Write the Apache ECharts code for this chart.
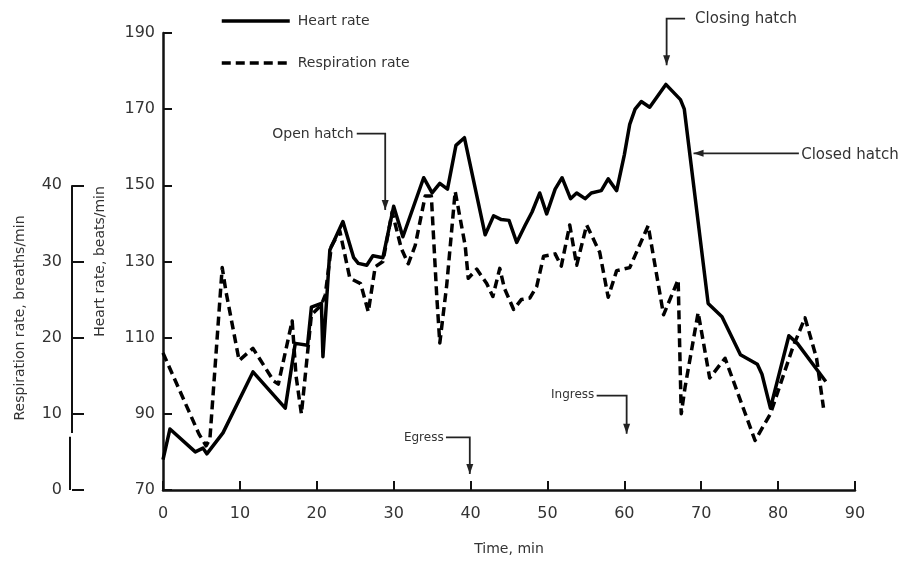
<!DOCTYPE html>
<html>
<head>
<meta charset="utf-8">
<script src="https://cdn.jsdelivr.net/npm/echarts@6/dist/echarts.min.js"></script>
<style>html,body{margin:0;padding:0;background:#fff}#c{width:910px;height:561px}</style>
</head>
<body>
<div id="c"></div>
<script>
// ---- data ----
var timeTicks = [0, 10, 20, 30, 40, 50, 60, 70, 80, 90];
var hrTicks = [70, 90, 110, 130, 150, 170, 190];
var respTicks = [0, 10, 20, 30, 40];

var hrTime = [0, 0.9, 4.2, 5.2, 5.7, 7.8, 11.7, 15.9, 17.2, 18.8, 19.3, 20.6, 20.8, 21.7, 23.4, 24.8, 25.4, 26.5, 27.3, 28.6, 30.0, 31.2, 33.9, 35.0, 36.0, 37.0, 38.1, 39.2, 41.9, 43.0, 44.0, 45.0, 46.0, 47.1, 48.0, 49.0, 49.9, 51.0, 51.9, 53.0, 53.8, 54.9, 55.7, 57.0, 57.9, 59.0, 60.0, 60.7, 61.4, 62.2, 63.3, 65.4, 67.3, 67.8, 70.9, 72.7, 75.1, 77.3, 77.9, 79.0, 81.4, 82.5, 86.2];
var hrValues = [78, 86, 80, 81, 79.5, 85, 101, 91.5, 108.5, 108, 118, 119, 105, 133, 140.5, 131, 129.5, 129, 131.5, 131, 144.5, 136.5, 152, 148, 150.5, 149, 160.5, 162.5, 137, 142, 141, 140.8, 135, 139.5, 143, 148, 142.5, 149, 152, 146.5, 148, 146.5, 148, 148.6, 151.7, 148.6, 158, 166, 170, 172, 170.5, 176.5, 172.5, 170, 119, 115.5, 105.5, 103, 100.4, 91.5, 110.5, 108.5, 98.5];

var respTime = [0, 4.7, 5.6, 6.1, 7.7, 8.2, 9.9, 11.7, 14.4, 15.0, 16.8, 17.3, 18.0, 19.3, 20.6, 21.1, 21.9, 23.0, 24.3, 25.7, 26.7, 27.6, 28.6, 29.8, 31.0, 31.9, 32.8, 34.1, 34.9, 35.6, 36.0, 36.9, 38.0, 39.3, 39.7, 40.8, 42.1, 42.9, 43.8, 44.4, 45.6, 46.6, 47.7, 48.6, 49.5, 51.0, 51.8, 52.9, 53.8, 55.1, 56.8, 57.9, 59.0, 60.7, 63.1, 65.1, 67.0, 67.4, 67.9, 69.6, 71.1, 73.1, 77.0, 79.0, 81.9, 83.5, 85.0, 85.9];
var respValues = [18, 7.3, 5.8, 6.7, 29.2, 26, 17, 18.6, 14.3, 13.9, 22.2, 15, 10, 23, 24.3, 25.6, 32, 34, 27.8, 27.1, 23.4, 29.3, 30, 36.5, 31.7, 29.7, 32.1, 38.6, 38.6, 25.5, 19.3, 26.9, 39.2, 32.1, 27.8, 29, 27.1, 25.4, 29.1, 26.5, 23.7, 25, 25.2, 26.7, 30.7, 31, 29.4, 34.8, 29.5, 34.8, 31.2, 25.3, 28.8, 29.2, 34.7, 23, 27.6, 10, 13.5, 23.3, 14.7, 17.3, 6.5, 10, 18.7, 22.6, 17.3, 10.8];

// annotations: label, text anchor (time, HR), arrow path in (time, HR)
var annotations = [
  { text: 'Closing hatch', t: 69.2, v: 193.6, align: 'left', path: [[67.9, 193.8], [65.5, 193.8], [65.5, 181.5]], size: 15 },
  { text: 'Closed hatch', t: 83.0, v: 158.0, align: 'left', path: [[82.7, 158.4], [69.0, 158.4]], size: 15 },
  { text: 'Open hatch', t: 24.8, v: 163.4, align: 'right', path: [[25.2, 163.6], [28.9, 163.6], [28.9, 143.5]], size: 14 },
  { text: 'Egress', t: 36.5, v: 83.6, align: 'right', path: [[36.8, 83.8], [39.9, 83.8], [39.9, 74.2]], size: 12 },
  { text: 'Ingress', t: 56.1, v: 95.0, align: 'right', path: [[56.4, 94.8], [60.3, 94.8], [60.3, 84.8]], size: 12 }
];

function pairs(xs, ys) { return xs.map(function (x, i) { return [x, ys[i]]; }); }

var FONT = 'DejaVu Sans';
var TXT = '#333';

var chart = echarts.init(document.getElementById('c'), null, { renderer: 'canvas' });
chart.setOption({
  animation: false,
  backgroundColor: '#fff',
  grid: { left: 163, right: 55, top: 33, bottom: 68, containLabel: false },
  legend: {
    orient: 'vertical', left: 215, top: 9, itemWidth: 68, itemHeight: 14, itemGap: 28,
    itemStyle: { opacity: 0 },
    lineStyle: { width: 3.5 },
    textStyle: { fontFamily: FONT, fontSize: 14, color: TXT, padding: [0, 0, 0, 3] },
    data: ['Heart rate', 'Respiration rate']
  },
  xAxis: {
    type: 'value', min: 0, max: 90, interval: 10,
    name: 'Time, min', nameLocation: 'middle', nameGap: 52,
    nameTextStyle: { fontFamily: FONT, fontSize: 14, color: TXT },
    axisLine: { lineStyle: { color: '#111', width: 2.5 } },
    axisTick: { inside: true, length: 9, lineStyle: { color: '#111', width: 2 } },
    axisLabel: { fontFamily: FONT, fontSize: 16, color: TXT, margin: 16, customValues: timeTicks },
    splitLine: { show: false }
  },
  yAxis: [{
    type: 'value', min: 70, max: 190, interval: 20,
    name: 'Heart rate, beats/min', nameLocation: 'middle', nameGap: 56, nameRotate: 90,
    nameTextStyle: { fontFamily: FONT, fontSize: 14, color: TXT },
    axisLine: { show: true, lineStyle: { color: '#111', width: 2.5 } },
    axisTick: { show: true, inside: true, length: 9, lineStyle: { color: '#111', width: 2 } },
    axisLabel: { fontFamily: FONT, fontSize: 16, color: TXT, margin: 8, customValues: hrTicks },
    splitLine: { show: false }
  }, {
    type: 'value', min: 0, max: 60, interval: 10, position: 'left', offset: 91,
    axisLine: { show: false },
    axisTick: { show: true, inside: true, length: 12, customValues: respTicks, lineStyle: { color: '#111', width: 2 } },
    axisLabel: { show: true, fontFamily: FONT, fontSize: 16, color: TXT, margin: 10, customValues: respTicks },
    splitLine: { show: false }
  }],
  series: [{
    name: 'Heart rate', type: 'line', xAxisIndex: 0, yAxisIndex: 0,
    data: pairs(hrTime, hrValues), symbol: 'none',
    lineStyle: { color: '#000', width: 3.5, join: 'round' },
    itemStyle: { color: '#000' }
  }, {
    name: 'Respiration rate', type: 'line', xAxisIndex: 0, yAxisIndex: 1,
    data: pairs(respTime, respValues), symbol: 'none',
    lineStyle: { color: '#000', width: 3.5, type: [9, 5], join: 'round' },
    itemStyle: { color: '#000' }
  }]
});

// annotations and respiration axis line via the chart's own coordinate conversion
function px(t, v) { return chart.convertToPixel({ xAxisIndex: 0, yAxisIndex: 0 }, [t, v]); }
var g = [];
var ax = chart.convertToPixel({ xAxisIndex: 0, yAxisIndex: 1 }, [0, 40]);
var ax7 = chart.convertToPixel({ xAxisIndex: 0, yAxisIndex: 1 }, [0, 7.5]);
var ax6 = chart.convertToPixel({ xAxisIndex: 0, yAxisIndex: 1 }, [0, 7.0]);
var ax0 = chart.convertToPixel({ xAxisIndex: 0, yAxisIndex: 1 }, [0, 0]);
var axX = 72;
g.push({ type: 'line', shape: { x1: axX, y1: ax[1], x2: axX, y2: ax7[1] }, style: { stroke: '#111', lineWidth: 2 } });
g.push({ type: 'line', shape: { x1: axX - 2, y1: ax6[1], x2: axX - 2, y2: ax0[1] }, style: { stroke: '#111', lineWidth: 2 } });
g.push({ type: 'text', x: 20, y: 318, rotation: Math.PI / 2,
  style: { text: 'Respiration rate, breaths/min', fontFamily: FONT, fontSize: 14, fill: TXT, align: 'center', verticalAlign: 'middle' } });

annotations.forEach(function (a) {
  var tp = px(a.t, a.v);
  g.push({ type: 'text', x: tp[0], y: tp[1], style: { text: a.text, fontFamily: FONT, fontSize: a.size, fill: TXT, align: a.align, verticalAlign: 'middle' } });
  var pts = a.path.map(function (p) { return px(p[0], p[1]); });
  g.push({ type: 'polyline', shape: { points: pts }, style: { stroke: '#222', lineWidth: 1.8, fill: null } });
  var n = pts.length, e = pts[n - 1], s = pts[n - 2];
  var dx = e[0] - s[0], dy = e[1] - s[1], L = Math.sqrt(dx * dx + dy * dy);
  var ux = dx / L, uy = dy / L, w = 3.5, h = 10;
  g.push({ type: 'polygon', shape: { points: [[e[0], e[1]], [e[0] - ux * h - uy * w, e[1] - uy * h + ux * w], [e[0] - ux * h + uy * w, e[1] - uy * h - ux * w]] }, style: { fill: '#222' } });
});
chart.setOption({ graphic: g });
</script>
</body>
</html>
